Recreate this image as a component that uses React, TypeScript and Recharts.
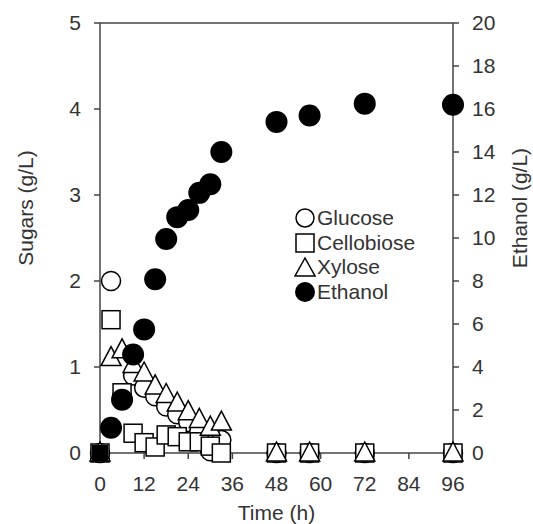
import { ComposedChart, Scatter, XAxis, YAxis, Legend, ReferenceLine } from "recharts";

const times = [0, 3, 6, 9, 12, 15, 18, 21, 24, 27, 30, 33, 48, 57, 72, 96];
const glucose = [0, 2.0, 0.65, 0.9, 0.76, 0.66, 0.54, 0.45, 0.36, 0.25, 0.02, 0.15, 0, 0, 0, 0];
const cellobiose = [0, 1.55, 0.7, 0.23, 0.12, 0.07, 0.21, 0.19, 0.13, 0.13, 0.08, 0, 0, 0, 0, 0];
const xylose = [0, 1.11, 1.2, 1.03, 0.93, 0.78, 0.68, 0.58, 0.48, 0.39, 0.3, 0.36, 0, 0, 0, 0];
const ethanol = [0, 1.17, 2.48, 4.58, 5.75, 8.08, 9.95, 10.97, 11.3, 12.1, 12.5, 14.0, 15.4, 15.7, 16.25, 16.2];

const timeTicks = [0, 12, 24, 36, 48, 60, 72, 84, 96];
const sugarTicks = [0, 1, 2, 3, 4, 5];
const ethanolTicks = [0, 2, 4, 6, 8, 10, 12, 14, 16, 18, 20];
const seriesNames = ["Glucose", "Cellobiose", "Xylose", "Ethanol"];

const toPoints = (vals: number[]) => times.map((t, i) => ({ time: t, value: vals[i] }));

const FONT = "'Liberation Sans', Arial, sans-serif";
const TEXT = "#333";
const AXIS = "#444";

const tickStyle = { fontSize: 21, fill: TEXT, fontFamily: FONT };

const CircleShape = (p: any) => (
  <circle cx={p.cx} cy={p.cy} r={9.5} fill="#fff" stroke="#000" strokeWidth={1.5} />
);
const SquareShape = (p: any) => (
  <rect x={p.cx - 9} y={p.cy - 9} width={18} height={18} fill="#fff" stroke="#000" strokeWidth={1.5} />
);
const TriangleShape = (p: any) => (
  <polygon
    points={`${p.cx},${p.cy - 11} ${p.cx - 10},${p.cy + 8} ${p.cx + 10},${p.cy + 8}`}
    fill="#fff"
    stroke="#000"
    strokeWidth={1.5}
  />
);
// the t=0 point shows up as a solid square in the original
const DotShape = (p: any) =>
  p.payload && p.payload.time === 0 ? (
    <rect x={p.cx - 8} y={p.cy - 8} width={16} height={16} fill="#000" />
  ) : (
    <circle cx={p.cx} cy={p.cy} r={11} fill="#000" />
  );

function LegendIcon({ name }: { name: string }) {
  return (
    <svg width={22} height={22} style={{ display: "block" }}>
      {name === "Glucose" && <circle cx={11} cy={11} r={9} fill="#fff" stroke="#000" strokeWidth={1.5} />}
      {name === "Cellobiose" && <rect x={2} y={2} width={18} height={18} fill="#fff" stroke="#000" strokeWidth={1.5} />}
      {name === "Xylose" && <polygon points="11,2 1,20 21,20" fill="#fff" stroke="#000" strokeWidth={1.5} />}
      {name === "Ethanol" && <circle cx={11} cy={11} r={10} fill="#000" />}
    </svg>
  );
}

function LegendBox() {
  return (
    <div style={{ fontFamily: FONT, fontSize: 21, color: TEXT }}>
      {seriesNames.map((n) => (
        <div key={n} style={{ display: "flex", alignItems: "center", height: 24.5 }}>
          <LegendIcon name={n} />
          <span style={{ marginLeft: 1 }}>{n}</span>
        </div>
      ))}
    </div>
  );
}

const sideTitle = (text: string, cx: number) => () => {
  const cy = 208;
  return (
    <text x={cx} y={cy} transform={`rotate(-90 ${cx} ${cy})`} textAnchor="middle" fontSize={21} fill={TEXT} fontFamily={FONT}>
      {text}
    </text>
  );
};

export default function App() {
  // pinned to the page corner so the 8px body margin doesn't push a scrollbar in
  return (
    <div style={{ position: "absolute", left: 0, top: 0 }}>
      <ComposedChart width={533} height={524} margin={{ top: 23, right: 0, bottom: 0, left: 0 }}>
        <XAxis
          xAxisId="t"
          type="number"
          dataKey="time"
          domain={[0, 96]}
          ticks={timeTicks}
          interval={0}
          height={71}
          tick={tickStyle}
          tickMargin={17}
          tickSize={6}
          stroke={AXIS}
          strokeWidth={1.5}
          label={{
            content: (props: any) => {
              const vb = props.viewBox;
              return (
                <text x={vb.x + vb.width / 2} y={vb.y + 67} textAnchor="middle" fontSize={21} fill={TEXT} fontFamily={FONT}>
                  Time (h)
                </text>
              );
            },
          }}
        />
        <YAxis
          yAxisId="left"
          type="number"
          domain={[0, 5]}
          ticks={sugarTicks}
          interval={0}
          width={100}
          tick={tickStyle}
          tickMargin={13}
          tickSize={6}
          stroke={AXIS}
          strokeWidth={1.5}
          label={{ content: sideTitle("Sugars (g/L)", 33) }}
        />
        <YAxis
          yAxisId="right"
          orientation="right"
          type="number"
          domain={[0, 20]}
          ticks={ethanolTicks}
          interval={0}
          width={80}
          tick={tickStyle}
          tickMargin={13}
          tickSize={6}
          stroke={AXIS}
          strokeWidth={1.5}
          label={{ content: sideTitle("Ethanol (g/L)", 527) }}
        />
        <ReferenceLine yAxisId="left" xAxisId="t" y={5} stroke={AXIS} strokeWidth={1.5} />
        <Scatter name="Glucose" xAxisId="t" yAxisId="left" data={toPoints(glucose)} dataKey="value" shape={CircleShape} isAnimationActive={false} />
        <Scatter name="Cellobiose" xAxisId="t" yAxisId="left" data={toPoints(cellobiose)} dataKey="value" shape={SquareShape} isAnimationActive={false} />
        <Scatter name="Xylose" xAxisId="t" yAxisId="left" data={toPoints(xylose)} dataKey="value" shape={TriangleShape} isAnimationActive={false} />
        <Scatter name="Ethanol" xAxisId="t" yAxisId="right" data={toPoints(ethanol)} dataKey="value" shape={DotShape} isAnimationActive={false} />
        <Legend
          layout="vertical"
          align="center"
          verticalAlign="middle"
          content={() => <LegendBox />}
          wrapperStyle={{ left: 294, top: 206, width: 150, height: 100 }}
        />
      </ComposedChart>
    </div>
  );
}
